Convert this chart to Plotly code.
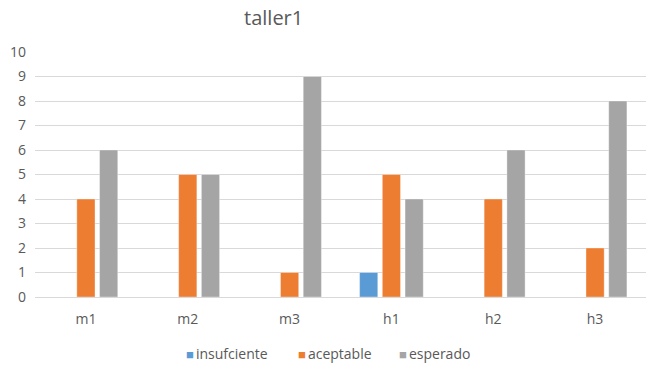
import plotly.graph_objects as go

categories = ["m1", "m2", "m3", "h1", "h2", "h3"]
insuficiente = [0, 0, 0, 1, 0, 0]
aceptable = [4, 5, 1, 5, 4, 2]
esperado = [6, 5, 9, 4, 6, 8]
series_names = ["insufciente", "aceptable", "esperado"]
colors = ["#5B9BD5", "#ED7D31", "#A5A5A5"]
y_ticks = list(range(0, 11))

fig = go.Figure()
for name, vals, col in zip(series_names, [insuficiente, aceptable, esperado], colors):
    fig.add_trace(go.Bar(
        x=categories, y=vals, name=name, showlegend=False,
        marker=dict(color=col, line=dict(color="rgba(255,255,255,0.35)", width=1)),
    ))

font_family = "Open Sans, Liberation Sans, Arial, sans-serif"

# custom legend (compact, like the reference)
legend_x = [184, 296, 397]
for name, col, lx in zip(series_names, colors, legend_x):
    fig.add_annotation(
        text=f"<span style='color:{col};font-size:13px'>■</span><span style='font-size:8px'> </span>{name}",
        xref="paper", yref="paper", x=(lx - 35) / 611, y=-(353 - 297) / 245,
        xanchor="left", yanchor="middle", showarrow=False,
        font=dict(size=14, color="#595959", family=font_family),
    )

fig.update_layout(
    width=650, height=366,
    margin=dict(l=35, r=4, t=52, b=69, autoexpand=False),
    paper_bgcolor="white", plot_bgcolor="white",
    barmode="group", bargap=0.33, bargroupgap=0.2,
    font=dict(family=font_family, color="#595959", size=14),
    title=dict(text="taller1", x=0.421, xanchor="center", y=0.951, yanchor="middle",
               font=dict(size=20, color="#595959", family=font_family)),
    showlegend=False,
)
fig.update_xaxes(showgrid=False, showline=True, linecolor="#D9D9D9", linewidth=1,
                 ticks="", tickfont=dict(size=14, color="#595959"), automargin=False,
                 ticklabelstandoff=9)
fig.update_yaxes(range=[0, 10], tickvals=y_ticks, showgrid=True, gridcolor="#D9D9D9",
                 gridwidth=1, zeroline=False, showline=False, ticks="",
                 tickfont=dict(size=14, color="#595959"), ticklabelstandoff=8,
                 automargin=False)

fig.write_html("out.html")
